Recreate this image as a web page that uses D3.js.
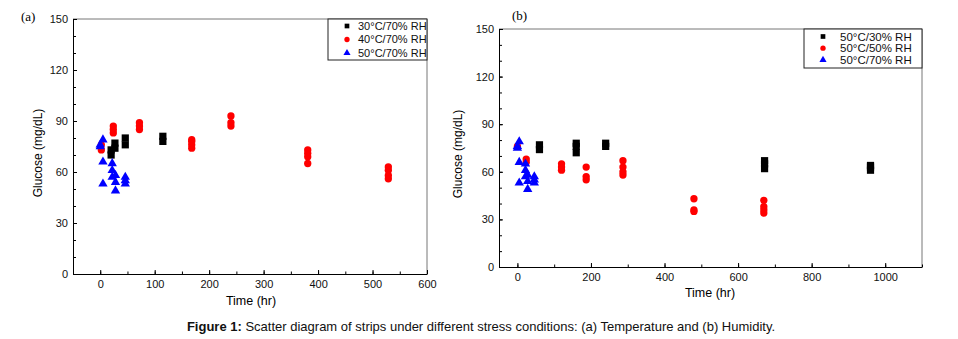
<!DOCTYPE html>
<html>
<head>
<meta charset="utf-8">
<script src="https://cdn.jsdelivr.net/npm/d3@7"></script>
<style>
  body { margin: 0; background: #fff; }
  svg { display: block; font-family: "Liberation Sans", Arial, sans-serif; }
</style>
</head>
<body>
<div id="chart"></div>
<script>
// Glucose readings as [time (hr), glucose (mg/dL)]
// Panel (a): temperature series
const t30rh70 = [[20, 70], [20, 73], [27, 74], [27, 77], [46, 76], [46, 80], [115, 78], [115, 81]];
const t40rh70 = [[2, 73], [2, 76], [24, 83], [24, 85], [24, 87], [72, 85], [72, 87], [72, 89],
  [168, 74], [168, 76], [168, 78], [168, 79], [240, 87], [240, 89], [240, 93],
  [381, 65], [381, 69], [381, 71], [381, 73], [529, 56], [529, 58], [529, 61], [529, 63]];
const t50rh70 = [[0, 75], [0, 76], [5, 79], [5, 66], [5, 53], [22, 65], [22, 61], [22, 57],
  [28, 58], [28, 54], [28, 49], [46, 57], [46, 55], [46, 53]];

// Panel (b): humidity series
const t50rh30 = [[60, 74], [60, 77], [160, 72], [160, 76], [160, 78], [240, 76], [240, 78],
  [672, 62], [672, 65], [672, 67], [960, 61], [960, 63], [960, 64]];
const t50rh50 = [[0, 76], [24, 66], [24, 68], [120, 61], [120, 63], [120, 65],
  [187, 55], [187, 57], [187, 63], [287, 58], [287, 60], [287, 63], [287, 67],
  [480, 35], [480, 36], [480, 43], [670, 34], [670, 36], [670, 38], [670, 42]];

const labelsA = ["30°C/70% RH", "40°C/70% RH", "50°C/70% RH"];
const labelsB = ["50°C/30% RH", "50°C/50% RH", "50°C/70% RH"];

const yTicks = [0, 30, 60, 90, 120, 150];
const xTicksA = [0, 100, 200, 300, 400, 500, 600];
const xTicksB = [0, 200, 400, 600, 800, 1000];

const W = 958, H = 339;
const svg = d3.select("#chart").append("svg")
  .attr("width", W)
  .attr("height", H);

// marker shapes shared by both panels
const markers = [
  {type: d3.symbolSquare, color: "#000", size: 52},
  {type: d3.symbolCircle, color: "#ff0000", size: 42},
  {type: d3.symbolTriangle, color: "#0000ff", size: 38}
];

function drawPanel(opt) {
  const g = svg.append("g");
  const x = d3.scaleLinear().domain(opt.xDomain).range([opt.left, opt.right]);
  const y = d3.scaleLinear().domain([0, 150]).range([opt.bottom, opt.top]);

  // frame: top and right in grey
  g.append("line").attr("x1", opt.left).attr("x2", opt.right)
    .attr("y1", opt.top).attr("y2", opt.top)
    .attr("stroke", "#777").attr("stroke-width", 1);
  g.append("line").attr("x1", opt.right).attr("x2", opt.right)
    .attr("y1", opt.top).attr("y2", opt.bottom)
    .attr("stroke", "#777").attr("stroke-width", 1);

  // minor ticks
  g.append("g").attr("transform", `translate(0,${opt.bottom})`)
    .call(d3.axisBottom(x).tickValues(opt.xMinor).tickSize(-2.5).tickFormat(""))
    .call(a => a.select(".domain").remove());
  g.append("g").attr("transform", `translate(${opt.left},0)`)
    .call(d3.axisLeft(y).tickValues(d3.range(0, 151, 10)).tickSize(-3).tickFormat(""))
    .call(a => a.select(".domain").remove());

  // major axes
  const xAxis = g.append("g").attr("transform", `translate(0,${opt.bottom})`)
    .call(d3.axisBottom(x).tickValues(opt.xTicks).tickFormat(d3.format("d"))
      .tickSize(-4).tickPadding(6).tickSizeOuter(0));
  const yAxis = g.append("g").attr("transform", `translate(${opt.left},0)`)
    .call(d3.axisLeft(y).tickValues(yTicks).tickSize(-4).tickPadding(5).tickSizeOuter(0));
  [xAxis, yAxis].forEach(a => {
    a.selectAll("text").style("font-size", "11px").attr("fill", "#111");
    a.select(".domain").attr("stroke", "#000");
  });

  // data points
  opt.series.forEach((data, i) => {
    const m = markers[i];
    g.append("g").selectAll("path")
      .data(data)
      .enter()
      .append("path")
      .attr("transform", d => `translate(${x(d[0])},${y(d[1])})`)
      .attr("d", d3.symbol().type(m.type).size(m.size))
      .attr("fill", m.color);
  });

  // legend box
  const lg = g.append("g");
  lg.append("rect")
    .attr("x", opt.legend.x).attr("y", opt.top)
    .attr("width", opt.right - opt.legend.x).attr("height", opt.legend.h)
    .attr("fill", "#fff").attr("stroke", "#222").attr("stroke-width", 1);
  opt.labels.forEach((lab, i) => {
    const cy = opt.top + opt.legend.first + i * opt.legend.step;
    lg.append("path")
      .attr("transform", `translate(${opt.legend.mx},${cy})`)
      .attr("d", d3.symbol().type(markers[i].type).size(22))
      .attr("fill", markers[i].color);
    lg.append("text")
      .attr("x", opt.legend.tx).attr("y", cy)
      .attr("dy", "0.35em")
      .style("font-size", opt.legend.fs)
      .attr("fill", "#111")
      .text(lab);
  });

  // axis titles and panel tag
  g.append("text")
    .attr("transform", `translate(${opt.yTitleX},${opt.yTitleY}) rotate(-90)`)
    .attr("text-anchor", "middle")
    .style("font-size", "12px")
    .text("Glucose (mg/dL)");
  g.append("text")
    .attr("x", opt.xTitleX).attr("y", opt.xTitleY)
    .attr("text-anchor", "middle")
    .style("font-size", "12.5px")
    .text("Time (hr)");
  g.append("text")
    .attr("x", opt.tag.x).attr("y", opt.tag.y)
    .style("font-family", "'Liberation Serif', serif")
    .style("font-size", "13px")
    .text(opt.tag.text);
}

drawPanel({
  left: 73, right: 427, top: 19, bottom: 274,
  xDomain: [-50, 600], xTicks: xTicksA, xMinor: d3.range(-50, 601, 50),
  series: [t30rh70, t40rh70, t50rh70], labels: labelsA,
  legend: {x: 328, h: 41, first: 7, step: 13.5, mx: 347, tx: 358, fs: "11px"},
  yTitleX: 42, yTitleY: 153, xTitleX: 251, xTitleY: 305,
  tag: {x: 21, y: 21, text: "(a)"}
});

drawPanel({
  left: 499, right: 922, top: 29, bottom: 267,
  xDomain: [-50, 1100], xTicks: xTicksB, xMinor: d3.range(0, 1101, 100),
  series: [t50rh30, t50rh50, t50rh70], labels: labelsB,
  legend: {x: 804, h: 39, first: 7.5, step: 11.7, mx: 823, tx: 840, fs: "11.5px"},
  yTitleX: 462, yTitleY: 154, xTitleX: 710, xTitleY: 297,
  tag: {x: 512, y: 20, text: "(b)"}
});

// figure caption
const cap = svg.append("text")
  .attr("x", 481).attr("y", 331)
  .attr("text-anchor", "middle")
  .style("font-size", "13px")
  .attr("fill", "#111");
cap.append("tspan").style("font-weight", "bold").text("Figure 1:");
cap.append("tspan").text(" Scatter diagram of strips under different stress conditions: (a) Temperature and (b) Humidity.");
</script>
</body>
</html>
